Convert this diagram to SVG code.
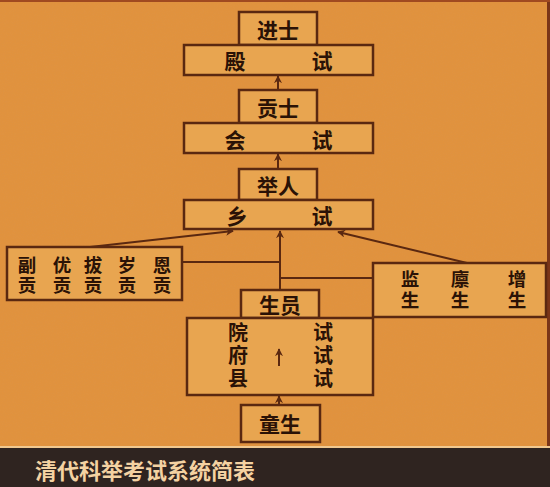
<svg xmlns="http://www.w3.org/2000/svg" width="550" height="487" viewBox="0 0 550 487">
<style>
.box{fill:#e8a550;stroke:#5a2810;stroke-width:2.5}
.t{font-family:"Noto Sans CJK SC","Noto Sans CJK TC",sans-serif;font-weight:700;fill:#2a1206;text-anchor:middle;dominant-baseline:central}
.big{font-size:21px}
.v{writing-mode:vertical-rl;text-orientation:upright}
.col{font-size:20px;letter-spacing:3px}
.mid{font-size:18.5px;letter-spacing:1.5px}
.mid2{font-size:18.5px;letter-spacing:2.5px}
.ln{stroke:#5a2810;stroke-width:2;fill:none}
.ar{marker-end:url(#ah)}
</style>
<defs>
<marker id="ah" viewBox="0 0 10 10" refX="9" refY="5" markerWidth="4" markerHeight="4" orient="auto" markerUnits="strokeWidth">
<path d="M0,0 L10,5 L0,10 L3,5 Z" fill="#5a2810"/>
</marker>
<filter id="noise" x="0" y="0" width="100%" height="100%">
<feTurbulence type="fractalNoise" baseFrequency="0.9" numOctaves="2" seed="3" result="n"/>
<feColorMatrix in="n" type="matrix" values="0 0 0 0 0.6  0 0 0 0 0.3  0 0 0 0 0.1  0 0 0 0.18 0" result="c"/>
<feComposite in="c" in2="SourceGraphic" operator="in"/>
</filter>
</defs>
<rect x="0" y="0" width="550" height="487" fill="#e2923c"/>
<rect x="0" y="0" width="550" height="448" fill="#e2923c" filter="url(#noise)"/>
<rect x="547" y="0" width="3" height="448" fill="#7a3518"/>
<rect x="0" y="0" width="550" height="2" fill="#a04a20"/>
<rect x="0" y="446" width="550" height="2" fill="#f0c890"/>
<rect x="0" y="448" width="550" height="39" fill="#2f2420"/>
<text x="35" y="469" style="font-family:'Noto Sans CJK SC',sans-serif;font-weight:700;font-size:22px;fill:#f4d2a2;dominant-baseline:central">清代科举考试系统简表</text>

<g id="connectors">
<line class="ln ar" x1="278" y1="90" x2="278" y2="76"/>
<line class="ln ar" x1="278" y1="169" x2="278" y2="154"/>
<line class="ln ar" x1="90" y1="247" x2="233" y2="231"/>
<line class="ln ar" x1="467" y1="263" x2="338" y2="232"/>
<line class="ln ar" x1="280" y1="290" x2="280" y2="231"/>
<line class="ln" x1="182" y1="262" x2="280" y2="262"/>
<line class="ln" x1="280" y1="278" x2="373" y2="278"/>
<line class="ln ar" x1="279" y1="405" x2="279" y2="396"/>
</g>

<g id="jinshi"><rect class="box" x="239" y="12" width="78" height="33"/><text class="t big" x="278" y="29">进士</text></g>
<g id="dianshi"><rect class="box" x="184" y="45" width="189" height="30"/><text class="t big" x="235" y="60">殿</text><text class="t big" x="322" y="60">试</text></g>
<g id="gongshi"><rect class="box" x="239" y="90" width="78" height="33"/><text class="t big" x="278" y="107">贡士</text></g>
<g id="huishi"><rect class="box" x="184" y="123" width="189" height="30"/><text class="t big" x="235" y="139">会</text><text class="t big" x="322" y="139">试</text></g>
<g id="juren"><rect class="box" x="239" y="169" width="78" height="31"/><text class="t big" x="278" y="185">举人</text></g>
<g id="xiangshi"><rect class="box" x="184" y="200" width="189" height="29"/><text class="t big" x="237" y="215">乡</text><text class="t big" x="322" y="215">试</text></g>
<g id="gong"><rect class="box" x="7" y="247" width="175" height="53"/>
<text class="t v mid" x="27" y="276">副贡</text>
<text class="t v mid" x="62" y="276">优贡</text>
<text class="t v mid" x="93" y="276">拔贡</text>
<text class="t v mid" x="127" y="276">岁贡</text>
<text class="t v mid" x="162" y="276">恩贡</text></g>
<g id="jiansheng"><rect class="box" x="373" y="263" width="173" height="54"/>
<text class="t v mid2" x="410" y="291">监生</text>
<text class="t v mid2" x="460" y="291">廪生</text>
<text class="t v mid2" x="517" y="291">增生</text></g>
<g id="shengyuan"><rect class="box" x="241" y="290" width="78" height="28"/><text class="t big" x="280" y="304">生员</text></g>
<g id="yuanshi"><rect class="box" x="187" y="318" width="186" height="77"/>
<text class="t v col" x="238" y="357">院府县</text>
<text class="t v col" x="323" y="357">试试试</text>
<line class="ln ar" x1="279" y1="366" x2="279" y2="349"/></g>
<g id="tongsheng"><rect class="box" x="241" y="405" width="79" height="37"/><text class="t big" x="280" y="423">童生</text></g>
</svg>
